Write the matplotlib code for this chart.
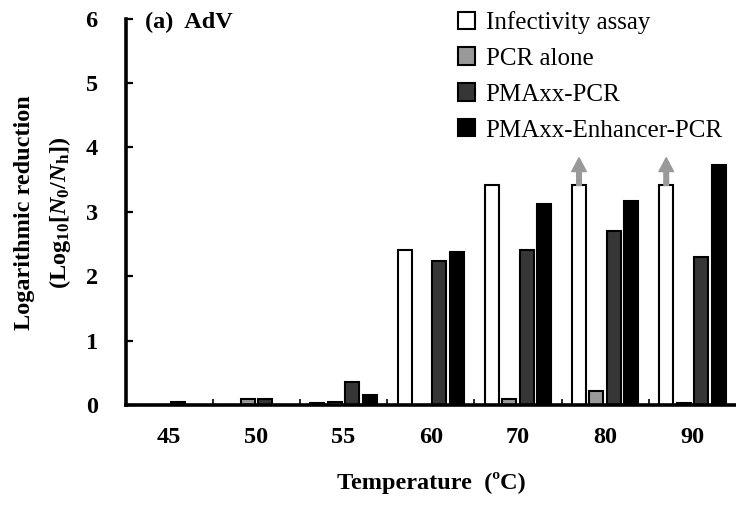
import matplotlib
matplotlib.use('Agg')
import matplotlib.pyplot as plt
import numpy as np

plt.rcParams.update({
    'font.family': 'serif',
    'font.serif': ['Liberation Serif', 'DejaVu Serif'],
    'mathtext.fontset': 'custom',
    'mathtext.rm': 'Liberation Serif:bold',
    'mathtext.it': 'Liberation Serif:bold:italic',
    'mathtext.bf': 'Liberation Serif:bold',
})

# Log reduction at each heat-treatment temperature
temperatures = ['45', '50', '55', '60', '70', '80', '90']
infectivity = [0.0, 0.0, 0.03, 2.41, 3.41, 3.41, 3.41]
pcr_alone = [0.0, 0.10, 0.04, 0.0, 0.09, 0.21, 0.03]
pmaxx_pcr = [0.05, 0.10, 0.36, 2.24, 2.41, 2.70, 2.30]
pmaxx_enh_pcr = [0.0, 0.0, 0.15, 2.38, 3.12, 3.16, 3.72]
# infectivity below detection limit -> true reduction is larger
above_limit = [False, False, False, False, False, True, True]

series = [
    ('Infectivity assay', infectivity, 'white'),
    ('PCR alone', pcr_alone, '#999999'),
    ('PMAxx-PCR', pmaxx_pcr, '#363636'),
    ('PMAxx-Enhancer-PCR', pmaxx_enh_pcr, 'black'),
]

fig = plt.figure(figsize=(7.36, 5.05), dpi=100)
ax = fig.add_axes([125.5 / 736, 100 / 505, 1 - 125.5 / 736, (405 - 18.6) / 505])

x = np.arange(len(temperatures))
step = 0.2
width = 0.16
offsets = (np.arange(4) - 1.5) * step

for (label, vals, color), off in zip(series, offsets):
    ax.bar(x + off, vals, width, color=color, edgecolor='black',
           linewidth=1.5, label=label, zorder=2)

# arrows on the infectivity bars that hit the detection limit
for xi, val, flag in zip(x, infectivity, above_limit):
    if flag:
        ax.annotate('', xy=(xi + offsets[0], val + 0.43), xytext=(xi + offsets[0], val),
                    arrowprops=dict(arrowstyle='simple,head_length=0.95,head_width=1.0,tail_width=0.32',
                                    color='#999999', shrinkA=0, shrinkB=0,
                                    mutation_scale=10.5))

ax.set_xlim(-0.5, len(temperatures) - 0.5)
ax.set_ylim(0, 6)
ax.set_xticks(x)
ax.set_xticklabels(temperatures, fontsize=17.5, fontweight='bold')
ax.set_xticks(np.arange(0.5, len(temperatures) - 0.5, 1.0), minor=True)
ax.tick_params(axis='x', which='major', length=0, pad=16)
ax.tick_params(axis='x', which='minor', direction='in', length=4, width=1.2)
ax.set_yticks(range(7))
ax.set_yticklabels([str(v) for v in range(7)], fontsize=17.5, fontweight='bold')
ax.tick_params(axis='y', direction='in', length=5, width=1.6, pad=20)

for side in ['top', 'right']:
    ax.spines[side].set_visible(False)
for side in ['left', 'bottom']:
    ax.spines[side].set_linewidth(2.6)

fig.text(145 / 736, (505 - 22) / 505, '(a)  AdV', fontsize=17.5, fontweight='bold',
         ha='left', va='center')

fig.text(431 / 736, (505 - 483) / 505, 'Temperature  (ºC)', fontsize=17.5,
         fontweight='bold', ha='center', va='center')
fig.text(25 / 736, (505 - 213) / 505, 'Logarithmic reduction', fontsize=17.5,
         fontweight='bold', rotation=90, ha='center', va='center')
fig.text(60 / 736, (505 - 213) / 505, r'(Log$_{10}$[$N_0$/$N_{\mathrm{h}}$])',
         fontsize=17.5, fontweight='bold', rotation=90, ha='center', va='center')

ax.legend(loc='upper left', bbox_to_anchor=(453 / 736, (505 - 6) / 505),
          bbox_transform=fig.transFigure,
          frameon=False, fontsize=18, handlelength=0.68, handleheight=0.68,
          handletextpad=0.42, labelspacing=0.54, borderpad=0.2, borderaxespad=0)

fig.savefig('out.png', dpi=100)
